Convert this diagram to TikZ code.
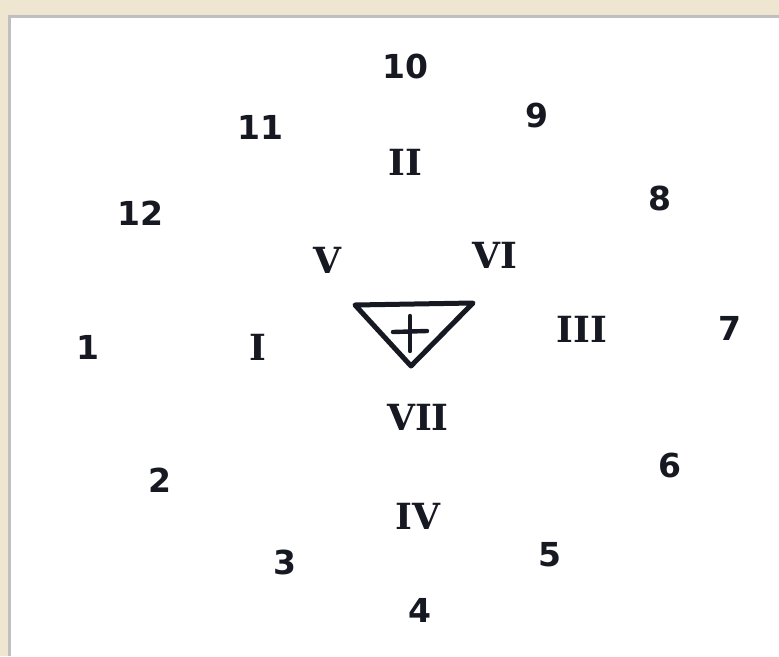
\documentclass[tikz,border=0pt]{standalone}
\usepackage{fontspec}
\setmainfont{DejaVu Sans}
\newfontfamily\numfont{DejaVu Sans}
\newfontfamily\romfont{DejaVu Serif}
\definecolor{frame}{RGB}{238,230,208}
\definecolor{ink}{RGB}{22,24,34}
\begin{document}
\begin{tikzpicture}[x=1pt,y=-1pt,
  arab/.style={text=ink,font=\numfont\bfseries\fontsize{33}{33}\selectfont,inner sep=0pt},
  rom/.style={text=ink,font=\romfont\bfseries\fontsize{36}{36}\selectfont,inner sep=0pt},
  symline/.style={draw=ink,line width=5pt,line cap=round,line join=round}]
\useasboundingbox (0,0) rectangle (779,656);
\fill[frame] (0,0) rectangle (779,656);
\fill[black!25] (8,15) rectangle (779,656);
\fill[white] (11,18) rectangle (779,656);
% arabic numbers
\node[arab] (n10) at (405,66) {10};
\node[arab] (n9) at (537,116) {9};
\node[arab] (n11) at (260,127) {11};
\node[arab] (n12) at (140,213) {12};
\node[arab] (n8) at (660,198) {8};
\node[arab] (n1) at (88,347) {1};
\node[arab] (n7) at (730,328) {7};
\node[arab] (n2) at (160,480) {2};
\node[arab] (n6) at (670,465) {6};
\node[arab] (n5) at (550,555) {5};
\node[arab] (n3) at (285,562) {3};
\node[arab] (n4) at (420,610) {4};
% roman numbers
\node[rom] (rII) at (405,162) {II};
\node[rom] (rV) at (327,260) {V};
\node[rom] (rVI) at (495,255) {VI};
\node[rom] (rI) at (258,347) {I};
\node[rom] (rIII) at (582,329) {III};
\node[rom] (rVII) at (418,417) {VII};
\node[rom] (rIV) at (418,516) {IV};
% central triangle with cross
\coordinate (tl) at (355,305);
\coordinate (tr) at (473,303);
\coordinate (tb) at (411,366);
\draw[symline] (tl) -- (tr) -- (tb) -- cycle;
\coordinate (ch1) at (393,332);
\coordinate (ch2) at (427,331);
\coordinate (cv1) at (410,316);
\coordinate (cv2) at (410,351);
\draw[symline,line width=4.4pt] (ch1) -- (ch2);
\draw[symline,line width=4.4pt] (cv1) -- (cv2);
\end{tikzpicture}
\end{document}
